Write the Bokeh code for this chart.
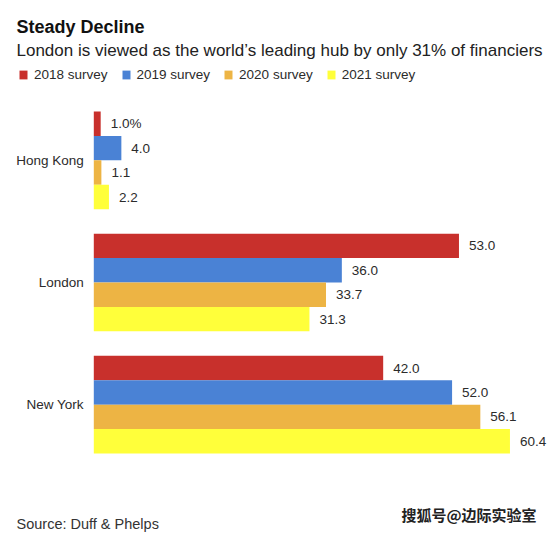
from bokeh.plotting import figure
from bokeh.models import Range1d, Label, Legend, LegendItem, ColumnDataSource
from bokeh.core.properties import value
from bokeh.embed import file_html
from bokeh.resources import INLINE

# ---- data ----
cities = ["Hong Kong", "London", "New York"]
surveys = ["2018 survey", "2019 survey", "2020 survey", "2021 survey"]
v2018 = [1.0, 53.0, 42.0]
v2019 = [4.0, 36.0, 52.0]
v2020 = [1.1, 33.7, 56.1]
v2021 = [2.2, 31.3, 60.4]
colors = ["#C8302C", "#4A82D5", "#EDB444", "#FFFF3A"]
title = "Steady Decline"
subtitle = "London is viewed as the world\u2019s leading hub by only 31% of financiers"
source_note = "Source: Duff & Phelps"
watermark = "搜狐号@边际实验室"

W, H = 554, 536
FONT = "Liberation Sans"
TXT = "#2b2b2b"

# scales: frame fills the whole canvas
px_per_unit_x = 6.89
x0_px = 93.3
px_per_bar = 24.43
y0_px = 111.0
x_range = Range1d(-x0_px / px_per_unit_x, (W - x0_px) / px_per_unit_x)
y_range = Range1d((H - y0_px) / px_per_bar, -y0_px / px_per_bar)

p = figure(width=W, height=H, x_range=x_range, y_range=y_range,
           output_backend="svg", toolbar_location=None,
           min_border=0, min_border_left=0, min_border_right=0,
           min_border_top=0, min_border_bottom=0)
p.axis.visible = False
p.grid.visible = False
p.outline_line_color = None
p.background_fill_color = "white"
p.border_fill_color = "white"

series = [v2018, v2019, v2020, v2021]
group_step = len(surveys) + 1
renderers = []
for k, (vals, col, name) in enumerate(zip(series, colors, surveys)):
    ys = [g * group_step + k + 0.5 for g in range(len(cities))]
    labels = [f"{v:.1f}" for v in vals]
    if k == 0:
        labels[0] = labels[0] + "%"
    src = ColumnDataSource(dict(y=ys, right=vals, lab=labels))
    r = p.hbar(y="y", right="right", left=0, height=1.0, source=src,
               fill_color=col, line_color=None)
    renderers.append((name, r))
    p.text(x="right", y="y", text="lab", source=src, x_offset=10,
           text_align="left", text_baseline="middle",
           text_font=value(FONT), text_font_size="13.5px", text_color=TXT)

# city labels
cy = [g * group_step + len(surveys) / 2 for g in range(len(cities))]
csrc = ColumnDataSource(dict(y=cy, x=[0] * len(cities), t=cities))
p.text(x="x", y="y", text="t", source=csrc, x_offset=-10,
       text_align="right", text_baseline="middle",
       text_font=value(FONT), text_font_size="13.5px", text_color=TXT)

def lab(text, x_img, y_img, size, style="normal", color=TXT, font=FONT, baseline="alphabetic"):
    p.add_layout(Label(x=x_img, y=H - y_img, x_units="screen", y_units="screen",
                       text=text, text_font=font, text_font_size=size,
                       text_font_style=style, text_color=color,
                       text_baseline=baseline, text_align="left"))

lab(title, 16, 26.5, "18px", "bold", "#111111")
lab(subtitle, 16, 49.5, "17px", "normal", "#222222")
lab(source_note, 16, 523, "14.5px", "normal", "#333333")
lab(watermark, 401, 514, "15px", "bold", "#222222", "Noto Sans CJK SC", "middle")

legend = Legend(items=[LegendItem(label=n, renderers=[r]) for n, r in renderers],
                orientation="horizontal", location=(18, H - 82),
                glyph_width=10, glyph_height=11, label_height=11,
                label_standoff=6, spacing=13, padding=0, margin=0,
                border_line_color=None, background_fill_alpha=0,
                label_text_font=FONT, label_text_font_size="13.5px",
                label_text_color=TXT, label_text_baseline="middle")
p.add_layout(legend, "center")

open("out.html", "w").write(file_html(p, INLINE))
